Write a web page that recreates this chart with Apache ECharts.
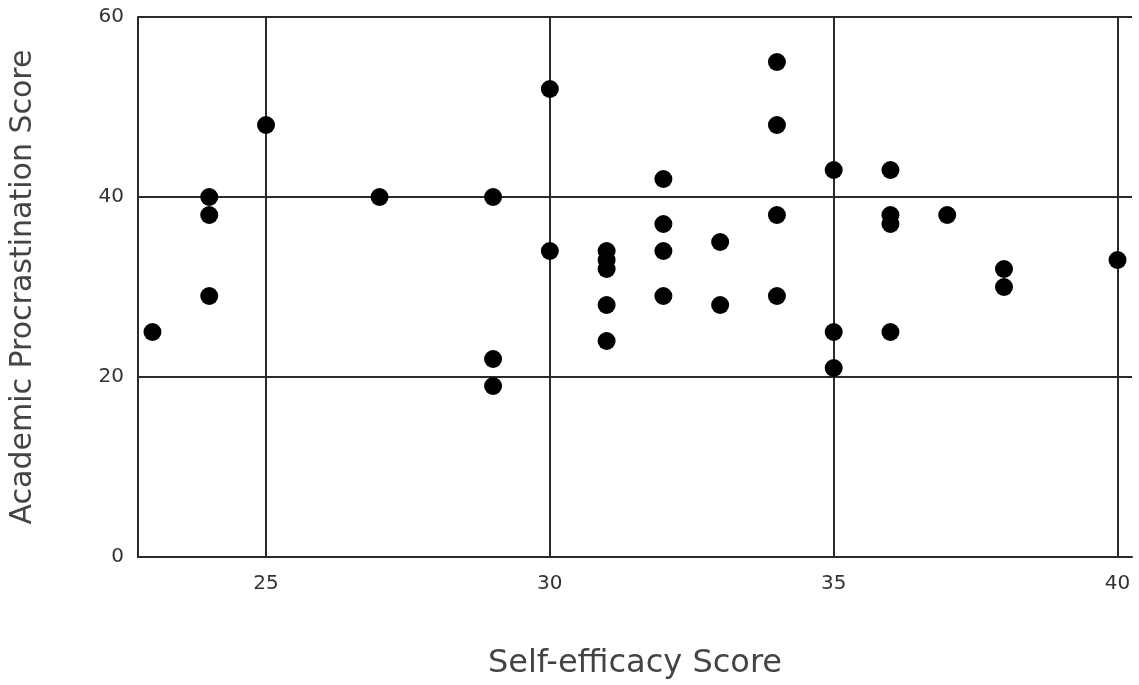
<!DOCTYPE html>
<html>
<head>
<meta charset="utf-8">
<script src="https://cdn.jsdelivr.net/npm/echarts@6/dist/echarts.min.js"></script>
<style>
html,body{margin:0;padding:0;background:#fff;}
#chart{width:1139px;height:685px;}
</style>
</head>
<body>
<div id="chart"></div>
<script>
const selfEfficacy = [23, 24, 24, 24, 25, 27, 29, 29, 29, 30, 30, 31, 31, 31, 31, 31, 32, 32, 32, 32, 33, 33, 34, 34, 34, 34, 35, 35, 35, 36, 36, 36, 36, 37, 38, 38, 40];
const procrastination = [25, 40, 38, 29, 48, 40, 40, 22, 19, 52, 34, 34, 33, 32, 28, 24, 42, 37, 34, 29, 35, 28, 55, 48, 38, 29, 43, 25, 21, 43, 38, 37, 25, 38, 32, 30, 33];
const xTicks = [25, 30, 35, 40];
const yTicks = [0, 20, 40, 60];
const xTitle = 'Self-efficacy Score';
const yTitle = 'Academic Procrastination Score';

const points = selfEfficacy.map((x, i) => [x, procrastination[i]]);
const font = 'DejaVu Sans';
const lineColor = '#2a2a2a';

const chart = echarts.init(document.getElementById('chart'));
chart.setOption({
  animation: false,
  backgroundColor: '#fff',
  grid: { left: 138, right: 7, top: 17, bottom: 128, containLabel: false },
  xAxis: {
    type: 'value',
    min: 22.745,
    max: 40.255,
    name: xTitle,
    nameLocation: 'middle',
    nameGap: 91,
    nameTextStyle: { fontFamily: font, fontSize: 32, color: '#444' },
    axisLine: { show: true, lineStyle: { color: lineColor, width: 2 } },
    axisTick: { show: false, customValues: xTicks },
    axisLabel: { customValues: xTicks, fontFamily: font, fontSize: 20, color: '#333', margin: 17 },
    splitLine: { show: false }
  },
  yAxis: {
    type: 'value',
    min: yTicks[0],
    max: yTicks[yTicks.length - 1],
    interval: 20,
    name: yTitle,
    nameLocation: 'middle',
    nameGap: 100,
    nameTextStyle: { fontFamily: font, fontSize: 30, color: '#444' },
    axisLine: { show: true, lineStyle: { color: lineColor, width: 2 } },
    axisTick: { show: false },
    axisLabel: { fontFamily: font, fontSize: 20, color: '#333', margin: 14 },
    splitLine: { show: true, lineStyle: { color: lineColor, width: 2 } }
  },
  series: [
    {
      type: 'scatter',
      data: points,
      symbol: 'circle',
      symbolSize: 18,
      itemStyle: { color: '#000', opacity: 1 },
      z: 5,
      markLine: {
        silent: true,
        symbol: 'none',
        label: { show: false },
        lineStyle: { color: lineColor, width: 2, type: 'solid', opacity: 1 },
        data: xTicks.map(v => ({ xAxis: v }))
      }
    }
  ]
});
</script>
</body>
</html>
